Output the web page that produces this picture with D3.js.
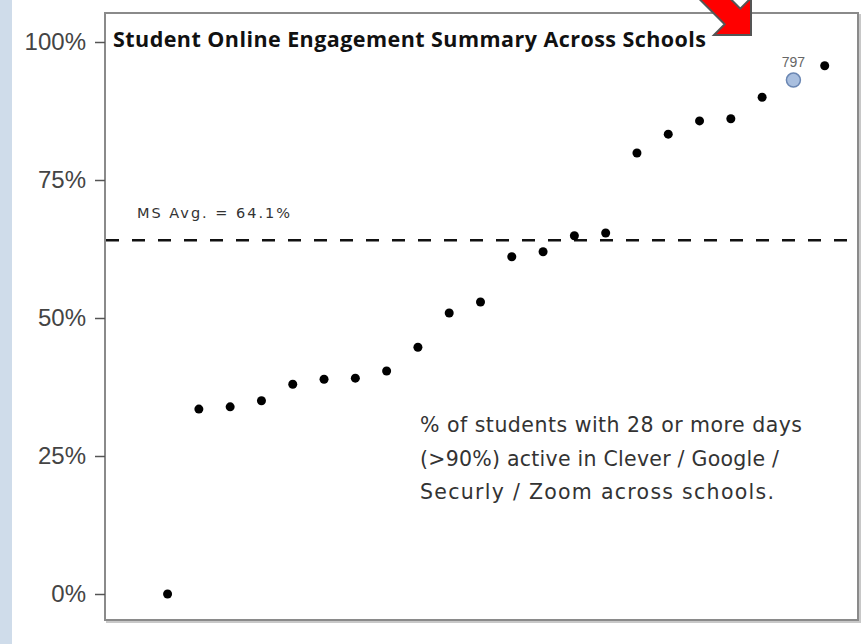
<!DOCTYPE html>
<html>
<head>
<meta charset="utf-8">
<script src="https://cdn.jsdelivr.net/npm/d3@7"></script>
<style>
  body { margin: 0; background: #fff; }
  svg { display: block; }
</style>
</head>
<body>
<div id="chart-area"></div>
<script>
// Data: share of students active 28+ days, one point per school, sorted
var schools = ["s1","s2","s3","s4","s5","s6","s7","s8","s9","s10","s11",
    "s12","s13","s14","s15","s16","s17","s18","s19","s20","797","s22"];
var engagement = [0.0, 0.335, 0.339, 0.350, 0.380, 0.389, 0.391, 0.404, 0.447,
    0.509, 0.529, 0.611, 0.620, 0.649, 0.654, 0.799, 0.833, 0.857, 0.861,
    0.900, 0.931, 0.957];
var highlight = "797";
var msAvg = 0.641;
var yTicks = [0, 0.25, 0.5, 0.75, 1];

var W = 863, H = 644;
var panel = { left: 105, right: 858, top: 13, bottom: 620 };

var svg = d3.select("#chart-area").append("svg")
    .attr("width", W)
    .attr("height", H);

// slide background strip on the left
svg.append("rect")
    .attr("x", 0).attr("y", 0)
    .attr("width", 12).attr("height", H)
    .attr("fill", "#cfdcea");

// Scales
var x = d3.scaleLinear()
    .domain([-2, 22])
    .range([panel.left, panel.right - 2]);
var y = d3.scaleLinear()
    .domain([0, 1])
    .range([594, 42]);

// panel frame with a little shadow
svg.append("rect")
    .attr("x", panel.left + 2).attr("y", panel.top + 2)
    .attr("width", panel.right - panel.left).attr("height", panel.bottom - panel.top)
    .attr("fill", "none").attr("stroke", "#c8c8c8").attr("stroke-width", 2);
svg.append("rect")
    .attr("x", panel.left).attr("y", panel.top)
    .attr("width", panel.right - panel.left).attr("height", panel.bottom - panel.top)
    .attr("fill", "#fff").attr("stroke", "#8a8a8a").attr("stroke-width", 2);

// Y axis
var yAxis = svg.append("g")
    .attr("transform", "translate(" + panel.left + ",0)")
    .call(d3.axisLeft(y).tickValues(yTicks).tickFormat(d3.format(".0%"))
        .tickSize(10).tickPadding(9));
yAxis.select(".domain").remove();
yAxis.selectAll(".tick line").attr("stroke", "#555").attr("stroke-width", 1.5);
yAxis.selectAll(".tick text")
    .attr("fill", "#444")
    .style("font-family", "Arial, 'Liberation Sans', sans-serif")
    .style("font-size", "24px");

// average line
svg.append("line")
    .attr("x1", panel.left + 1).attr("x2", panel.right - 1)
    .attr("y1", y(msAvg)).attr("y2", y(msAvg))
    .attr("stroke", "#111").attr("stroke-width", 2.5)
    .attr("stroke-dasharray", "13,13");

svg.append("text")
    .attr("x", 137).attr("y", y(msAvg) - 22)
    .attr("fill", "#333")
    .attr("textLength", 153)
    .style("font-family", "'DejaVu Sans', sans-serif")
    .style("font-size", "14.5px")
    .text("MS Avg. = " + d3.format(".1%")(msAvg));

// title
svg.append("text")
    .attr("x", 113).attr("y", 47)
    .attr("fill", "#111")
    .attr("textLength", 593)
    .style("font-family", "'Open Sans', sans-serif")
    .style("font-weight", "bold")
    .style("font-size", "21.5px")
    .text("Student Online Engagement Summary Across Schools");

// points
var pts = schools.map(function(s, i) { return { id: s, i: i, v: engagement[i] }; });

svg.selectAll(".dot")
    .data(pts.filter(function(d) { return d.id !== highlight; }))
    .enter().append("circle")
    .attr("class", "dot")
    .attr("cx", function(d) { return x(d.i); })
    .attr("cy", function(d) { return y(d.v); })
    .attr("r", 4.5)
    .attr("fill", "#000");

var hl = pts.filter(function(d) { return d.id === highlight; });
svg.selectAll(".hl")
    .data(hl)
    .enter().append("circle")
    .attr("class", "hl")
    .attr("cx", function(d) { return x(d.i); })
    .attr("cy", function(d) { return y(d.v); })
    .attr("r", 7)
    .attr("fill", "#a9bfdf")
    .attr("stroke", "#6b87b3")
    .attr("stroke-width", 1.5);
svg.selectAll(".hl-label")
    .data(hl)
    .enter().append("text")
    .attr("x", function(d) { return x(d.i); })
    .attr("y", function(d) { return y(d.v) - 13; })
    .attr("text-anchor", "middle")
    .attr("fill", "#666")
    .style("font-family", "Arial, 'Liberation Sans', sans-serif")
    .style("font-size", "14px")
    .text(function(d) { return d.id; });

// note
var note = ["% of students with 28 or more days",
    "(>90%) active in Clever / Google /",
    "Securly / Zoom across schools."];
var noteLens = [382, 359, 354];
svg.selectAll(".note")
    .data(note)
    .enter().append("text")
    .attr("class", "note")
    .attr("x", 420)
    .attr("y", function(d, i) { return 432 + i * 33.5; })
    .attr("textLength", function(d, i) { return noteLens[i]; })
    .attr("fill", "#333")
    .style("font-family", "'DejaVu Sans', sans-serif")
    .style("font-size", "20.5px")
    .text(function(d) { return d; });

// red call-out arrow at the top
var tip = [751, 35];
var arrowPts = [
    [tip[0], tip[1]],
    [tip[0] - 37, tip[1]],
    [724.7, 24.3],
    [684.7, -15.7],
    [700.3, -31.3],
    [740.3, 8.7],
    [tip[0], tip[1] - 37]
];
svg.append("path")
    .attr("d", d3.line()(arrowPts) + "Z")
    .attr("fill", "#ff0000")
    .attr("stroke", "#555")
    .attr("stroke-width", 2)
    .attr("stroke-linejoin", "miter");
</script>
</body>
</html>
